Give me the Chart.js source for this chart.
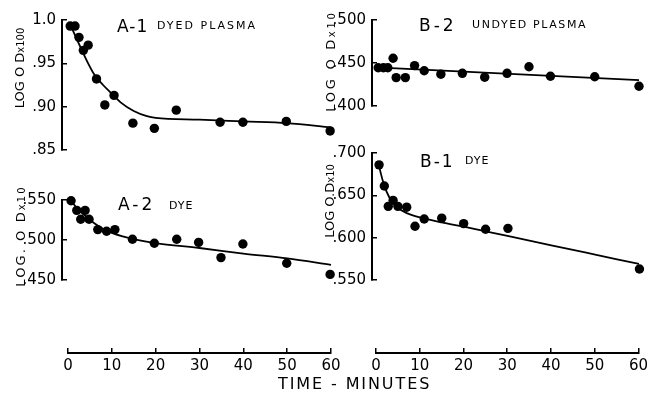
<!DOCTYPE html>
<html>
<head>
<meta charset="utf-8">
<script src="https://cdn.jsdelivr.net/npm/chart.js@4.4.0/dist/chart.umd.min.js"></script>
<style>
  body { margin: 0; background: #fff; }
  #wrap { position: relative; width: 652px; height: 394px; overflow: hidden; font-family: "DejaVu Sans", sans-serif; color: #000; }
  canvas { position: absolute; }
  .t { position: absolute; white-space: nowrap; line-height: 1; }
  .big { font-size: 17px; letter-spacing: 1px; }
  .small { font-size: 11px; letter-spacing: 2px; }
  .ylab { position: absolute; white-space: nowrap; line-height: 1; font-size: 13px; transform: translate(-50%, -50%) rotate(-90deg); }
  .ylab small { font-size: 10px; }
</style>
</head>
<body>
<div id="wrap">
  <canvas id="chartA1" width="345" height="170" style="left:0;top:0"></canvas>
  <canvas id="chartA2" width="345" height="120" style="left:0;top:180px"></canvas>
  <canvas id="chartB2" width="334" height="130" style="left:318px;top:0"></canvas>
  <canvas id="chartB1" width="334" height="170" style="left:318px;top:130px"></canvas>
  <canvas id="timeLeft" width="345" height="64" style="left:0;top:330px"></canvas>
  <canvas id="timeRight" width="334" height="64" style="left:318px;top:330px"></canvas>

  <div class="t big" style="left:117px;top:18px">A-1</div>
  <div class="t small" style="left:157px;top:20.4px">DYED PLASMA</div>
  <div class="t big" style="left:419px;top:17.3px;letter-spacing:3px">B-2</div>
  <div class="t small" style="left:472px;top:19.4px;letter-spacing:1.6px">UNDYED PLASMA</div>
  <div class="t big" style="left:118px;top:196.3px;letter-spacing:3px">A-2</div>
  <div class="t small" style="left:169px;top:200.4px;letter-spacing:1px">DYE</div>
  <div class="t big" style="left:420px;top:153px;letter-spacing:2px">B-1</div>
  <div class="t small" style="left:465px;top:155.4px;letter-spacing:1px">DYE</div>

  <div class="ylab" style="left:19px;top:68px">LOG O D<small>x100</small></div>
  <div class="ylab" style="left:20px;top:236px;letter-spacing:2.1px">LOG. O D<small>x10</small></div>
  <div class="ylab" style="left:329.5px;top:61px;letter-spacing:2.7px">LOG O D<small>x10</small></div>
  <div class="ylab" style="left:329px;top:201px">LOG O.D<small>x10</small></div>

  <div class="t" style="left:278px;top:376px;font-size:16px;letter-spacing:1.9px">TIME - MINUTES</div>
</div>

<script>
// A-1 dyed plasma, log OD x100
const timeA1 = [0.5, 1.6, 2.5, 3.5, 4.6, 6.5, 8.4, 10.5, 14.8, 19.7, 24.7, 34.7, 39.9, 49.8, 59.8];
const odA1 = [0.993, 0.993, 0.980, 0.965, 0.971, 0.932, 0.902, 0.913, 0.881, 0.875, 0.896, 0.882, 0.882, 0.883, 0.872];
const fitTimeA1 = [0.5, 2, 4, 6, 8, 10, 12, 15, 18, 20, 30, 40, 50, 60];
const fitA1 = [0.995, 0.978, 0.956, 0.937, 0.925, 0.915, 0.905, 0.895, 0.889, 0.887, 0.885, 0.883, 0.881, 0.876];
const ticksA1 = [0.85, 0.90, 0.95, 1.0];
const labelsA1 = ['.85', '.90', '.95', '1.0'];

// A-2 dye, log OD x10
const timeA2 = [0.7, 2.0, 2.9, 3.9, 4.8, 6.8, 8.8, 10.7, 14.7, 19.7, 24.8, 29.8, 34.9, 39.9, 49.9, 59.8];
const odA2 = [0.549, 0.537, 0.526, 0.537, 0.526, 0.513, 0.511, 0.513, 0.501, 0.496, 0.501, 0.497, 0.478, 0.495, 0.471, 0.457];
const fitTimeA2 = [0.5, 2, 4, 6, 8, 10, 15, 20, 30, 40, 50, 60];
const fitA2 = [0.551, 0.540, 0.530, 0.521, 0.514, 0.509, 0.501, 0.496, 0.490, 0.483, 0.477, 0.469];
const ticksA2 = [0.45, 0.50, 0.55];
const labelsA2 = ['.450', '.500', '.550'];

// B-2 undyed plasma, log OD x10
const timeB2 = [0.5, 1.7, 2.7, 3.9, 4.6, 6.7, 8.8, 11.0, 14.8, 19.7, 24.8, 29.9, 34.9, 39.8, 49.9, 60];
const odB2 = [0.4445, 0.4445, 0.4445, 0.4555, 0.433, 0.433, 0.447, 0.441, 0.437, 0.438, 0.4335, 0.438, 0.4456, 0.4346, 0.434, 0.423];
const fitTimeB2 = [0, 60];
const fitB2 = [0.445, 0.430];
const ticksB2 = [0.40, 0.45, 0.50];
const labelsB2 = ['.400', '.450', '.500'];

// B-1 dye, log OD x10
const timeB1 = [0.7, 1.9, 2.8, 3.9, 5.0, 7.0, 8.9, 11.0, 15.0, 20.0, 25.0, 30.1, 60.1];
const odB1 = [0.686, 0.661, 0.637, 0.644, 0.637, 0.636, 0.6135, 0.622, 0.623, 0.6166, 0.610, 0.611, 0.563];
const fitTimeB1 = [0.7, 1, 2, 3, 4, 5, 7, 10, 15, 20, 30, 40, 50, 60];
const fitB1 = [0.686, 0.678, 0.660, 0.648, 0.640, 0.635, 0.629, 0.624, 0.618, 0.613, 0.602, 0.591, 0.580, 0.569];
const ticksB1 = [0.55, 0.60, 0.65, 0.70];
const labelsB1 = ['.550', '.600', '.650', '.700'];

// time axis, minutes
const timeTicks = [0, 10, 20, 30, 40, 50, 60];

Chart.defaults.font.family = '"DejaVu Sans", sans-serif';
Chart.defaults.color = '#000';

function toPoints(xs, ys) {
    return xs.map((x, i) => ({ x: x, y: ys[i] }));
}

// One panel: fitted curve + measured dots, y axis only
function panelChart(id, cfg) {
    const ctx = document.getElementById(id);
    return new Chart(ctx, {
        type: 'scatter',
        data: {
            datasets: [{
                data: toPoints(cfg.fitT, cfg.fitY),
                showLine: true,
                borderColor: '#000',
                borderWidth: 1.8,
                pointRadius: 0,
                cubicInterpolationMode: 'monotone',
                clip: false
            }, {
                data: toPoints(cfg.t, cfg.y),
                pointRadius: 4.7,
                pointBackgroundColor: '#000',
                pointBorderWidth: 0,
                clip: false
            }]
        },
        options: {
            responsive: false,
            animation: false,
            layout: { autoPadding: false, padding: cfg.pad },
            plugins: {
                legend: { display: false },
                tooltip: { enabled: false }
            },
            scales: {
                x: { type: 'linear', display: false, min: cfg.xMin, max: 60 },
                y: {
                    type: 'linear',
                    min: cfg.ticks[0],
                    max: cfg.ticks[cfg.ticks.length - 1],
                    afterBuildTicks: s => { s.ticks = cfg.ticks.map(v => ({ value: v })); },
                    afterFit: s => { s.width = cfg.axisWidth; },
                    ticks: {
                        callback: (v, i) => cfg.labels[i],
                        font: { size: 15 },
                        padding: 11
                    },
                    grid: { drawOnChartArea: false, drawTicks: true, tickLength: -5, color: '#000', lineWidth: 1.5 },
                    border: { display: true, color: '#000', width: 2 }
                }
            }
        }
    });
}

// Bottom time axis, ticks pointing up
function timeAxis(id, pad) {
    return new Chart(document.getElementById(id), {
        type: 'scatter',
        data: { datasets: [{ data: [] }] },
        options: {
            responsive: false,
            animation: false,
            layout: { autoPadding: false, padding: pad },
            plugins: {
                legend: { display: false },
                tooltip: { enabled: false }
            },
            scales: {
                x: {
                    type: 'linear',
                    min: 0,
                    max: 60,
                    afterBuildTicks: s => { s.ticks = timeTicks.map(v => ({ value: v })); },
                    afterFit: s => { s.height = 20; },
                    ticks: { font: { size: 15 }, padding: 4 },
                    grid: { drawOnChartArea: true, drawTicks: false, color: '#000', lineWidth: 1.5 },
                    border: { display: true, color: '#000', width: 2 }
                },
                y: { display: false }
            }
        }
    });
}

panelChart('chartA1', {
    t: timeA1, y: odA1, fitT: fitTimeA1, fitY: fitA1,
    ticks: ticksA1, labels: labelsA1,
    xMin: -1.37, axisWidth: 62,
    pad: { left: 0, right: 14, top: 17, bottom: 17 }
});
panelChart('chartA2', {
    t: timeA2, y: odA2, fitT: fitTimeA2, fitY: fitA2,
    ticks: ticksA2, labels: labelsA2,
    xMin: -1.37, axisWidth: 62,
    pad: { left: 0, right: 14, top: 17, bottom: 12 }
});
panelChart('chartB2', {
    t: timeB2, y: odB2, fitT: fitTimeB2, fitY: fitB2,
    ticks: ticksB2, labels: labelsB2,
    xMin: -0.91, axisWidth: 54,
    pad: { left: 0, right: 13, top: 15, bottom: 24 }
});
panelChart('chartB1', {
    t: timeB1, y: odB1, fitT: fitTimeB1, fitY: fitB1,
    ticks: ticksB1, labels: labelsB1,
    xMin: -0.91, axisWidth: 54,
    pad: { left: 0, right: 13, top: 23, bottom: 14 }
});

timeAxis('timeLeft', { left: 68, right: 14, top: 18, bottom: 21 });
timeAxis('timeRight', { left: 58, right: 13, top: 18, bottom: 21 });
</script>
</body>
</html>
